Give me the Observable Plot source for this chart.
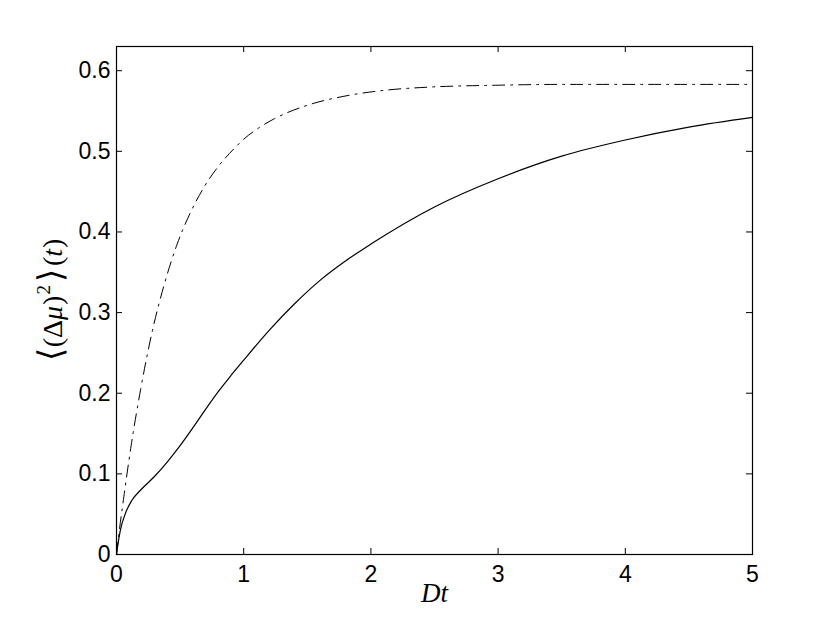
<!DOCTYPE html>
<html><head><meta charset="utf-8">
<script src="https://cdn.jsdelivr.net/npm/d3@7"></script>
<script src="https://cdn.jsdelivr.net/npm/@observablehq/plot@0.6"></script>
<style>body{margin:0;background:#fff;} svg{display:block;}</style>
</head><body><div id="chart"></div>
<script>
// Solid curve
const tSolid = [0, 0.005, 0.03, 0.07, 0.12, 0.19, 0.3, 0.4, 0.5, 0.6, 0.7, 0.8, 0.9, 1.0, 1.2, 1.4, 1.6, 1.8, 2.0, 2.5, 3.0, 3.5, 4.0, 4.5, 5.0];
const ySolid = [0, 0.006, 0.030, 0.051, 0.067, 0.080, 0.097, 0.115, 0.135, 0.157, 0.180, 0.202, 0.222, 0.241, 0.278, 0.311, 0.340, 0.364, 0.385, 0.431, 0.466, 0.494, 0.514, 0.530, 0.542];
// Dash-dot curve
const tDash = [0, 0.02, 0.058, 0.115, 0.19, 0.28, 0.372, 0.477, 0.581, 0.686, 0.83, 0.935, 1.0, 1.118, 1.236, 1.498, 1.812, 2.127, 2.44, 3.0, 3.5, 5.0];
const yDash = [0, 0.027, 0.072, 0.135, 0.205, 0.276, 0.333, 0.385, 0.424, 0.455, 0.487, 0.505, 0.515, 0.529, 0.540, 0.557, 0.569, 0.576, 0.5795, 0.582, 0.583, 0.583];
// Ticks
const xTicks = [0, 1, 2, 3, 4, 5];
const yTicks = [0, 0.1, 0.2, 0.3, 0.4, 0.5, 0.6];
const xLabel = "Dt";
const yLabelParts = [
  {text: "⟨", kind: "bracket"},
  {text: "(", kind: "normal"},
  {text: "Δ", kind: "normal"},
  {text: "μ", kind: "italic"},
  {text: ")", kind: "normal"},
  {text: "2", kind: "sup"},
  {text: "⟩", kind: "bracket"},
  {text: "(", kind: "normal"},
  {text: "t", kind: "italic"},
  {text: ")", kind: "normal"}
];

const W = 830, H = 625, mL = 116, mR = 78, mT = 46, mB = 71;
const plotW = W - mL - mR, plotH = H - mT - mB;
const tickLen = 6;

const solid = tSolid.map((t, i) => ({t, v: ySolid[i]}));
const dash = tDash.map((t, i) => ({t, v: yDash[i]}));

const chart = Plot.plot({
  width: W, height: H,
  marginLeft: mL, marginRight: mR, marginTop: mT, marginBottom: mB,
  x: {domain: [0, 5], label: null},
  y: {domain: [0, 0.63], label: null},
  style: {fontFamily: "'Liberation Sans', Arial, sans-serif", fontSize: "23px", background: "white", color: "black"},
  marks: [
    Plot.line(dash, {x: "t", y: "v", stroke: "black", strokeWidth: 1, curve: "monotone-x", strokeDasharray: "12,6,2,6"}),
    Plot.line(solid, {x: "t", y: "v", stroke: "black", strokeWidth: 1.2, curve: "monotone-x"}),
    Plot.frame({stroke: "black", strokeWidth: 1.2}),
    Plot.tickX(xTicks, {x: d => d, stroke: "black", insetTop: plotH - tickLen}),
    Plot.tickX(xTicks, {x: d => d, stroke: "black", insetBottom: plotH - tickLen}),
    Plot.tickY(yTicks, {y: d => d, stroke: "black", insetRight: plotW - tickLen}),
    Plot.tickY(yTicks, {y: d => d, stroke: "black", insetLeft: plotW - tickLen}),
    Plot.axisX(xTicks, {tickSize: 0, tickPadding: 11, fontSize: 23, label: null, tickFormat: d => String(d)}),
    Plot.axisY(yTicks, {tickSize: 0, tickPadding: 6, fontSize: 23, label: null, tickFormat: d => String(d)}),
    Plot.text([xLabel], {frameAnchor: "bottom", dy: 47, text: d => d, fontStyle: "italic", fontFamily: "'Liberation Serif', 'DejaVu Serif', serif", fontSize: 27, fill: "black"})
  ]
});
document.getElementById("chart").appendChild(chart);

// y-axis label with mixed styles
const svg = d3.select(chart);
const lab = svg.append("text")
  .attr("transform", `translate(62,${mT + plotH / 2}) rotate(-90)`)
  .attr("text-anchor", "middle")
  .attr("font-family", "'Liberation Serif', 'DejaVu Serif', serif")
  .attr("font-size", 28)
  .attr("fill", "black");
let shifted = false;
yLabelParts.forEach((p, i) => {
  const ts = lab.append("tspan").text(p.text);
  if (p.kind === "italic") ts.attr("font-style", "italic");
  if (p.kind === "bracket") ts.attr("font-family", "'DejaVu Sans', 'Noto Sans', sans-serif").attr("font-weight", 200).attr("font-size", 34).attr("dx", i === 0 ? 0 : 3);
  if (p.kind === "sup") { ts.attr("font-size", 19).attr("dy", -12).attr("dx", 1); shifted = true; }
  else if (shifted) { ts.attr("dy", 12); shifted = false; }
  if (p.text === ")" ) ts.attr("dx", 1);
  if (p.text === "(" && i > 0) ts.attr("dx", i === 1 ? 1 : 3);
});
</script>
</body></html>
